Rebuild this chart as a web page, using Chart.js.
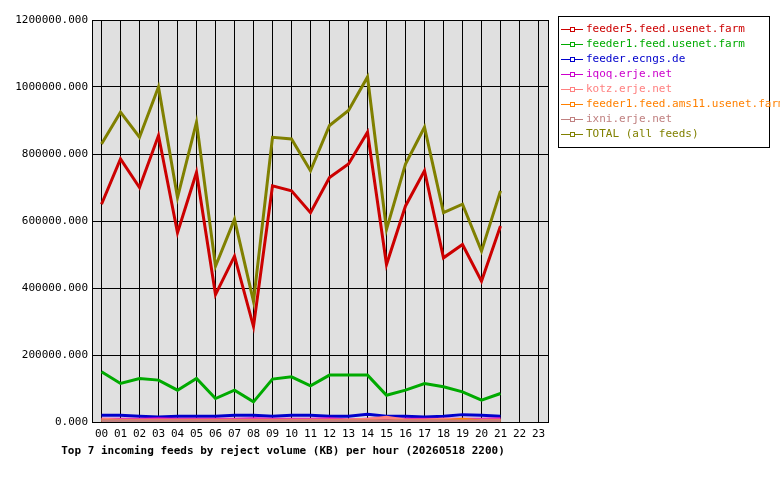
<!DOCTYPE html>
<html>
<head>
<meta charset="utf-8">
<script src="https://cdn.jsdelivr.net/npm/chart.js@4"></script>
<style>
  body { margin: 0; background: #fff; font-family: "DejaVu Sans Mono", monospace; }
  #wrap { position: relative; width: 780px; height: 480px; }
  #c { position: absolute; left: 0; top: 0; }
  #legend { position: absolute; left: 558px; top: 16px; width: 212px; border: 1px solid #000; padding: 4px 0 6px 2px; font-size: 11px; box-sizing: border-box; }
  #legend div { height: 15px; line-height: 15px; white-space: nowrap; }
  #legend span.mk { display: inline-block; width: 22px; height: 1px; vertical-align: middle; margin-right: 3px; position: relative; }
  #legend span.mk i { position: absolute; left: 9px; top: -2px; width: 3px; height: 3px; border: 1px solid; }
  #title { position: absolute; left: 0; width: 566px; top: 444px; text-align: center; font-weight: bold; font-size: 11px; }
</style>
</head>
<body>
<div id="wrap">
  <canvas id="c" width="560" height="480" style="width:560px;height:480px"></canvas>
  <div id="legend"></div>
  <div id="title">Top 7 incoming feeds by reject volume (KB) per hour (20260518 2200)</div>
</div>
<script>
const hours = ["00","01","02","03","04","05","06","07","08","09","10","11","12","13","14","15","16","17","18","19","20","21","22","23"];
const feeder5 = [650000,785000,700000,855000,565000,745000,380000,495000,285000,705000,690000,625000,730000,770000,865000,470000,645000,750000,490000,530000,420000,585000];
const feeder1 = [150000,115000,130000,125000,95000,130000,70000,95000,60000,128000,135000,108000,140000,140000,140000,80000,95000,115000,105000,90000,65000,85000];
const ecngs = [20000,20000,17000,15000,17000,17000,17000,20000,20000,17000,20000,20000,17000,17000,23000,17000,17000,15000,17000,22000,20000,17000];
const iqoq = [8000,8000,8000,10000,8000,8000,8000,8000,10000,8000,8000,8000,10000,6000,8000,8000,8000,8000,8000,8000,8000,10000];
const kotz = [8000,6000,6000,6000,6000,6000,6000,6000,6000,6000,6000,6000,6000,6000,8000,14000,6000,6000,8000,6000,6000,6000];
const ams11 = [3000,3000,3000,3000,3000,3000,3000,3000,3000,3000,3000,3000,3000,3000,3000,3000,3000,3000,3000,8000,3000,3000];
const ixni = [3000,3000,3000,3000,3000,3000,3000,3000,3000,3000,3000,3000,3000,3000,3000,3000,3000,3000,3000,3000,3000,3000];
const total = [830000,925000,850000,1000000,670000,895000,465000,605000,360000,850000,845000,750000,885000,930000,1030000,575000,770000,880000,625000,650000,510000,690000];

const series = [
  ["feeder5.feed.usenet.farm", feeder5, "#cc0000"],
  ["feeder1.feed.usenet.farm", feeder1, "#00aa00"],
  ["feeder.ecngs.de", ecngs, "#0000cc"],
  ["iqoq.erje.net", iqoq, "#cc00cc"],
  ["kotz.erje.net", kotz, "#ff8080"],
  ["feeder1.feed.ams11.usenet.farm", ams11, "#ff8000"],
  ["ixni.erje.net", ixni, "#c08080"],
  ["TOTAL (all feeds)", total, "#808000"]
];

const legend = document.getElementById("legend");
series.forEach(([name, , col]) => {
  const d = document.createElement("div");
  d.style.color = col;
  d.innerHTML = `<span class="mk" style="background:${col}"><i style="border-color:${col};background:#fff"></i></span>${name}`;
  legend.appendChild(d);
});

const plotBg = {
  id: "plotBg",
  beforeDraw(chart) {
    const { ctx, chartArea: a } = chart;
    ctx.save();
    ctx.fillStyle = "#e0e0e0";
    ctx.fillRect(a.left, a.top, a.right - a.left, a.bottom - a.top);
    ctx.restore();
  },
  afterDraw(chart) {
    const { ctx, chartArea: a } = chart;
    ctx.save();
    ctx.strokeStyle = "#000";
    ctx.lineWidth = 1;
    ctx.strokeRect(a.left + 0.5, a.top + 0.5, a.right - a.left, a.bottom - a.top);
    ctx.restore();
  }
};

new Chart(document.getElementById("c"), {
  type: "line",
  data: {
    labels: hours,
    datasets: series.map(([name, data, col]) => ({
      label: name, data: data, borderColor: col, backgroundColor: col,
      borderWidth: 3, pointRadius: 0, tension: 0
    })).reverse()
  },
  options: {
    responsive: false,
    animation: false,
    layout: { padding: { top: 20, right: 12, left: 0, bottom: 0 } },
    plugins: { legend: { display: false }, tooltip: { enabled: false } },
    scales: {
      x: {
        offset: true,
        grid: { offset: false, color: "#000", drawTicks: false },
        border: { display: false },
        ticks: { color: "#000", font: { family: "DejaVu Sans Mono", size: 11 }, padding: 6, maxRotation: 0, autoSkip: false },
        afterFit(s) { s.height = 58; }
      },
      y: {
        min: 0, max: 1200000,
        grid: { color: "#000", drawTicks: false },
        border: { display: false },
        ticks: { stepSize: 200000, color: "#000", font: { family: "DejaVu Sans Mono", size: 11 }, padding: 4,
          callback: v => v.toFixed(3) },
        afterFit(s) { s.width = 92; }
      }
    }
  },
  plugins: [plotBg]
});
</script>
</body>
</html>
